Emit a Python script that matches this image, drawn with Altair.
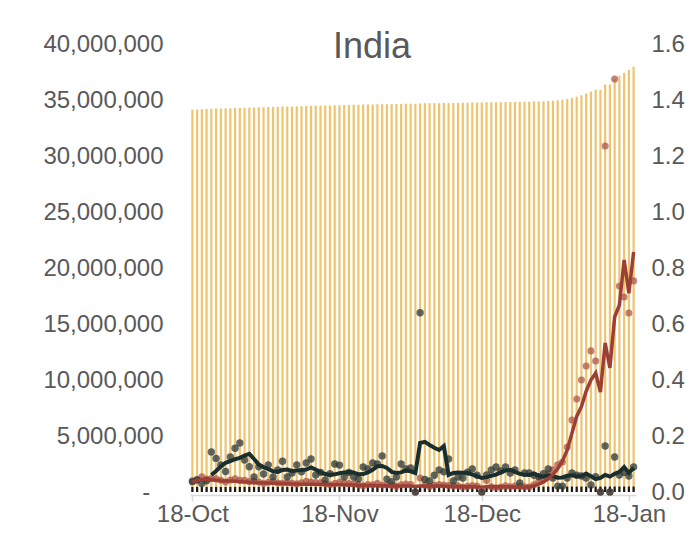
import altair as alt
import pandas as pd

# ---------------- data ----------------
start_date = "2021-10-18"
n_days = 94

# cumulative confirmed cases, millions (yellow bars, left axis)
cum_cases_m = [
    34.15, 34.16, 34.18, 34.19, 34.21, 34.23, 34.24, 34.25, 34.27, 34.28,
    34.30, 34.31, 34.32, 34.34, 34.35, 34.36, 34.37, 34.38, 34.39, 34.41,
    34.42, 34.43, 34.44, 34.45, 34.46, 34.48, 34.49, 34.50, 34.51, 34.52,
    34.53, 34.54, 34.55, 34.56, 34.57, 34.58, 34.59, 34.59, 34.60, 34.61,
    34.62, 34.63, 34.64, 34.64, 34.65, 34.66, 34.67, 34.67, 34.69, 34.70,
    34.70, 34.71, 34.72, 34.73, 34.74, 34.74, 34.75, 34.76, 34.76, 34.77,
    34.78, 34.78, 34.79, 34.80, 34.80, 34.81, 34.82, 34.82, 34.83, 34.84,
    34.84, 34.85, 34.86, 34.87, 34.89, 34.91, 34.94, 34.98, 35.02, 35.08,
    35.17, 35.28, 35.43, 35.59, 35.76, 35.92, 35.92, 36.38, 36.38, 36.90,
    37.17, 37.43, 37.67, 37.97,
]

# cumulative deaths, thousands (black bars, left axis)
cum_deaths_k = [
    452.3, 452.5, 452.7, 452.8, 453.5, 454.1, 454.6, 455.0, 455.6, 456.3,
    457.1, 457.6, 458.0, 458.2, 458.6, 458.9, 459.4, 459.6, 460.0, 460.5,
    460.7, 461.0, 461.4, 461.8, 462.3, 462.8, 463.1, 463.4, 463.6, 463.9,
    464.4, 464.8, 465.1, 465.4, 465.7, 465.9, 466.3, 466.7, 467.2, 467.7,
    468.3, 468.5, 468.7, 469.0, 469.5, 469.9, 470.3, 470.3, 473.3, 473.5,
    473.7, 474.0, 474.4, 474.7, 475.3, 475.5, 475.7, 476.0, 476.3, 476.7,
    477.0, 477.0, 477.3, 477.7, 478.1, 478.5, 478.9, 479.2, 479.6, 479.7,
    480.0, 480.3, 480.6, 480.9, 481.2, 481.6, 481.8, 481.9, 482.0, 482.3,
    482.6, 482.9, 483.2, 483.4, 483.5, 483.8, 483.8, 484.6, 484.6, 485.2,
    485.5, 485.8, 486.1, 486.5,
]

# daily growth of cases, % (red dots, right axis)
case_growth_pct = [
    0.040, 0.043, 0.054, 0.046, 0.048, 0.047, 0.042, 0.036, 0.043, 0.047,
    0.042, 0.042, 0.037, 0.038, 0.036, 0.030, 0.035, 0.037, 0.032, 0.031,
    0.033, 0.031, 0.029, 0.033, 0.038, 0.036, 0.034, 0.033, 0.030, 0.026,
    0.030, 0.035, 0.032, 0.030, 0.030, 0.025, 0.022, 0.027, 0.026, 0.031,
    0.024, 0.025, 0.024, 0.020, 0.026, 0.028, 0.027, 0.000, 0.050, 0.024,
    0.020, 0.024, 0.027, 0.025, 0.023, 0.022, 0.021, 0.017, 0.020, 0.023,
    0.021, 0.000, 0.041, 0.019, 0.015, 0.018, 0.022, 0.019, 0.021, 0.020,
    0.019, 0.018, 0.026, 0.038, 0.048, 0.065, 0.079, 0.097, 0.107, 0.161,
    0.257, 0.332, 0.400, 0.450, 0.504, 0.468, 0.000, 1.236, 0.000, 1.475,
    0.736, 0.696, 0.639, 0.754,
]

# smoothed growth of cases, % (red line)
case_growth_avg_pct = [
    0.037, 0.041, 0.045, 0.045, 0.044, 0.042, 0.040, 0.039, 0.039, 0.038,
    0.037, 0.036, 0.035, 0.034, 0.033, 0.032, 0.032, 0.031, 0.031, 0.030,
    0.030, 0.029, 0.029, 0.028, 0.028, 0.028, 0.027, 0.027, 0.027, 0.026,
    0.026, 0.026, 0.025, 0.025, 0.025, 0.024, 0.024, 0.023, 0.023, 0.022,
    0.022, 0.022, 0.021, 0.021, 0.021, 0.021, 0.021, 0.020, 0.021, 0.021,
    0.021, 0.021, 0.021, 0.021, 0.020, 0.020, 0.020, 0.020, 0.019, 0.019,
    0.019, 0.017, 0.019, 0.019, 0.019, 0.019, 0.019, 0.019, 0.018, 0.018,
    0.018, 0.019, 0.022, 0.028, 0.036, 0.047, 0.062, 0.083, 0.110, 0.150,
    0.210, 0.270, 0.305, 0.360, 0.400, 0.425, 0.357, 0.532, 0.443, 0.625,
    0.668, 0.829, 0.710, 0.857,
]

# daily growth of deaths, % (dark dots, right axis)
death_growth_pct = [
    0.037, 0.044, 0.030, 0.040, 0.143, 0.120, 0.097, 0.073, 0.125, 0.156,
    0.175, 0.114, 0.090, 0.054, 0.090, 0.064, 0.097, 0.054, 0.079, 0.110,
    0.054, 0.068, 0.097, 0.072, 0.104, 0.118, 0.061, 0.070, 0.043, 0.065,
    0.100, 0.096, 0.054, 0.070, 0.054, 0.046, 0.089, 0.082, 0.104, 0.100,
    0.129, 0.046, 0.036, 0.054, 0.100, 0.082, 0.086, 0.000, 0.640, 0.045,
    0.039, 0.060, 0.079, 0.072, 0.118, 0.039, 0.054, 0.050, 0.071, 0.082,
    0.060, 0.000, 0.061, 0.079, 0.089, 0.075, 0.089, 0.068, 0.079, 0.032,
    0.068, 0.068, 0.060, 0.055, 0.065, 0.082, 0.050, 0.021, 0.021, 0.050,
    0.068, 0.060, 0.057, 0.050, 0.025, 0.055, 0.000, 0.164, 0.000, 0.125,
    0.061, 0.070, 0.057, 0.089,
]

# smoothed growth of deaths, % (dark line; starts on the 5th day)
death_growth_avg_pct = [
    None, None, None, None, 0.061, 0.075, 0.092, 0.104, 0.110, 0.117,
    0.122, 0.130, 0.136, 0.118, 0.098, 0.089, 0.082, 0.074, 0.072, 0.079,
    0.080, 0.075, 0.077, 0.079, 0.080, 0.088, 0.080, 0.071, 0.064, 0.061,
    0.063, 0.067, 0.070, 0.071, 0.070, 0.063, 0.064, 0.070, 0.079, 0.092,
    0.093, 0.086, 0.072, 0.068, 0.070, 0.077, 0.074, 0.068, 0.175, 0.179,
    0.168, 0.158, 0.150, 0.164, 0.061, 0.068, 0.070, 0.069, 0.068, 0.062,
    0.057, 0.050, 0.053, 0.058, 0.062, 0.070, 0.077, 0.079, 0.072, 0.065,
    0.062, 0.061, 0.066, 0.058, 0.055, 0.060, 0.057, 0.051, 0.052, 0.058,
    0.060, 0.056, 0.057, 0.066, 0.056, 0.046, 0.050, 0.061, 0.055, 0.065,
    0.072, 0.089, 0.068, 0.086,
]

left_ticks = [0, 5e6, 10e6, 15e6, 20e6, 25e6, 30e6, 35e6, 40e6]
right_ticks = [0.0, 0.2, 0.4, 0.6, 0.8, 1.0, 1.2, 1.4, 1.6]
x_tick_dates = [(2021, 10, 18), (2021, 11, 18), (2021, 12, 18), (2022, 1, 18)]
chart_title = "India"

# ---------------- table ----------------
df = pd.DataFrame({
    "date": pd.date_range(start_date, periods=n_days, freq="D"),
    "cases": [v * 1e6 for v in cum_cases_m],
    "deaths": [v * 1e3 for v in cum_deaths_k],
    "case_rate": case_growth_pct,
    "case_avg": case_growth_avg_pct,
    "death_rate": death_growth_pct,
    "death_avg": death_growth_avg_pct,
})

FONT = "Liberation Sans"
TXT = "#595959"

x_enc = alt.X(
    "date:T",
    scale=alt.Scale(domain=[alt.DateTime(year=2021, month=10, date=17, hours=12),
                            alt.DateTime(year=2022, month=1, date=19, hours=12)],
                    padding=0, nice=False),
    axis=alt.Axis(
        values=[alt.DateTime(year=y, month=m, date=d) for (y, m, d) in x_tick_dates],
        format="%d-%b", title=None, grid=False,
        domainColor="#D9D9D9", domainWidth=1.5,
        tickColor="#D9D9D9", tickWidth=1.5, tickSize=6,
        labelFont=FONT, labelFontSize=24, labelColor=TXT, labelPadding=1,
        offset=3,
    ),
)

left_axis = alt.Axis(
    values=left_ticks, title=None, grid=False, domain=False, ticks=False, tickSize=0,
    labelExpr="datum.value == 0 ? '-\u00a0\u00a0\u200b' : format(datum.value, ',')",
    labelFont=FONT, labelFontSize=24, labelColor=TXT, labelPadding=27,
)
left_scale = alt.Scale(domain=[0, 40e6], nice=False)

right_axis = alt.Axis(
    orient="right", values=right_ticks, title=None, grid=False, domain=False,
    ticks=False, tickSize=0,
    labelExpr="format(datum.value, '.1f') + '%'",
    labelFont=FONT, labelFontSize=24, labelColor=TXT, labelPadding=15,
)
right_scale = alt.Scale(domain=[0, 1.6], nice=False)

base = alt.Chart(df)

cases_bars = base.mark_bar(color="#EFC46F", size=2.2).encode(
    x=x_enc, y=alt.Y("cases:Q", scale=left_scale, axis=left_axis))
deaths_bars = base.mark_bar(color="#1A1A1A", size=2.2).encode(
    x=x_enc, y=alt.Y("deaths:Q", scale=left_scale, axis=left_axis))

case_dots = base.mark_circle(color="#A84E45", opacity=0.7, size=50).encode(
    x=x_enc, y=alt.Y("case_rate:Q", scale=right_scale, axis=right_axis))
death_dots = base.mark_circle(color="#2B3838", opacity=0.75, size=55).encode(
    x=x_enc, y=alt.Y("death_rate:Q", scale=right_scale, axis=right_axis))
death_line = base.mark_line(color="#1B2E2E", strokeWidth=4).encode(
    x=x_enc, y=alt.Y("death_avg:Q", scale=right_scale, axis=right_axis))
case_line = base.mark_line(color="#9C4036", strokeWidth=3.5).encode(
    x=x_enc, y=alt.Y("case_avg:Q", scale=right_scale, axis=right_axis))

left_layer = alt.layer(cases_bars, deaths_bars)
right_layer = alt.layer(case_dots, death_dots, death_line, case_line)

chart = (
    alt.layer(left_layer, right_layer)
    .resolve_scale(y="independent")
    .properties(
        width=446, height=448,
        autosize=alt.AutoSizeParams(type="none"),
        padding={"left": 182, "top": 36, "right": 49, "bottom": 31},
        title=alt.TitleParams(
            chart_title, font=FONT, fontSize=36, fontWeight="normal", color=TXT,
            anchor="middle", frame="group", baseline="alphabetic",
            offset=-16, dy=46, dx=-41,
        ),
    )
    .configure_view(stroke=None)
)

chart.save("out.html", embed_options={"renderer": "svg", "actions": False})
